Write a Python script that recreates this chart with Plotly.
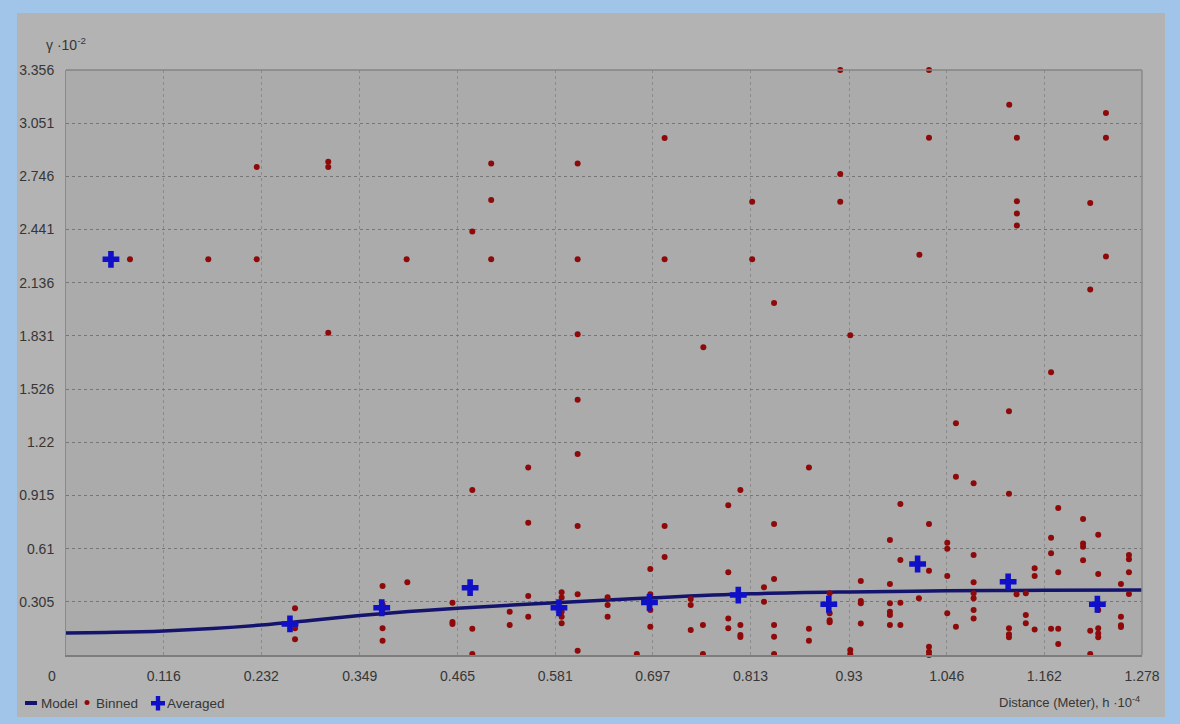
import plotly.graph_objects as go

# ---------------- data ----------------
x_ticks = [0, 0.116, 0.232, 0.349, 0.465, 0.581, 0.697, 0.813, 0.93, 1.046, 1.162, 1.278]
y_ticks = [0.305, 0.61, 0.915, 1.22, 1.526, 1.831, 2.136, 2.441, 2.746, 3.051, 3.356]

model_x = [0, 0.058, 0.116, 0.174, 0.232, 0.29, 0.349, 0.407, 0.465, 0.581, 0.697, 0.813, 0.93, 1.046, 1.162, 1.278]
model_y = [0.126, 0.130, 0.138, 0.152, 0.172, 0.198, 0.226, 0.249, 0.268, 0.300, 0.328, 0.351, 0.362, 0.368, 0.371, 0.373]

binned_x = [
    0.076, 0.169, 0.2265, 0.2265, 0.272, 0.272, 0.272, 0.272, 0.3115, 0.3115, 0.3115,
    0.376, 0.376, 0.376, 0.376, 0.376, 0.4046, 0.4054, 0.459, 0.459, 0.459,
    0.4826, 0.4826, 0.4826, 0.4826, 0.505, 0.505, 0.505, 0.527, 0.527,
    0.549, 0.549, 0.549, 0.549, 0.5887, 0.5887, 0.5887, 0.5887, 0.5887,
    0.6077, 0.6077, 0.6077, 0.6077, 0.6077, 0.6077, 0.6077, 0.6077,
    0.6433, 0.6433, 0.6433, 0.678, 0.694, 0.694, 0.694, 0.694,
    0.711, 0.711, 0.711, 0.711, 0.742, 0.742, 0.742, 0.757, 0.7565, 0.7565,
    0.7866, 0.7866, 0.7866, 0.7866, 0.801, 0.801, 0.801, 0.801, 0.815, 0.815,
    0.829, 0.829, 0.841, 0.841, 0.841, 0.841, 0.841, 0.841,
    0.8824, 0.8824, 0.8824, 0.907, 0.907, 0.907, 0.907,
    0.9196, 0.9196, 0.9196, 0.9315, 0.9315, 0.9315, 0.944, 0.944, 0.944, 0.944,
    0.9786, 0.9786, 0.9786, 0.9786, 0.9786, 0.9786, 0.991, 0.991, 0.991, 0.991,
    1.0136, 1.013, 1.025, 1.025, 1.025, 1.025, 1.025, 1.025, 1.025,
    1.0467, 1.0467, 1.0467, 1.0467, 1.057, 1.057, 1.057,
    1.078, 1.078, 1.078, 1.078, 1.078, 1.078, 1.078,
    1.1203, 1.12, 1.12, 1.12, 1.12, 1.12, 1.1294, 1.1294, 1.1294, 1.1294, 1.129,
    1.14, 1.14, 1.14, 1.1505, 1.1505, 1.1505, 1.17, 1.17, 1.17, 1.17,
    1.1785, 1.1785, 1.1785, 1.1785, 1.208, 1.208, 1.208, 1.208,
    1.2165, 1.2165, 1.2165, 1.2165, 1.226, 1.226, 1.226, 1.226, 1.226, 1.226,
    1.2352, 1.2352, 1.2352, 1.253, 1.253, 1.253, 1.253, 1.2625, 1.2625, 1.2625, 1.2625,
]
binned_y = [
    2.27, 2.27, 2.27, 2.80, 0.268, 0.176, 0.153, 0.09, 2.83, 2.80, 1.849,
    0.396, 0.29, 0.26, 0.153, 0.082, 2.27, 0.417, 0.30, 0.19, 0.178,
    2.43, 0.947, 0.151, 0.006, 2.82, 2.61, 2.27, 0.248, 0.172,
    1.075, 0.759, 0.338, 0.22, 0.36, 0.33, 0.248, 0.22, 0.182,
    2.82, 2.27, 1.84, 1.465, 1.153, 0.74, 0.348, 0.025,
    0.331, 0.287, 0.22, 0.006, 0.493, 0.348, 0.258, 0.162,
    2.966, 2.27, 0.74, 0.562, 0.321, 0.287, 0.143, 1.765, 0.172, 0.006,
    0.859, 0.474, 0.21, 0.153, 0.947, 0.172, 0.115, 0.103, 2.60, 2.27,
    0.388, 0.306, 2.02, 0.752, 0.436, 0.172, 0.105, 0.006,
    1.075, 0.151, 0.082, 0.354, 0.239, 0.2, 0.188,
    3.356, 2.76, 2.60, 1.835, 0.029, 0.006, 0.425, 0.31, 0.297, 0.18,
    0.66, 0.407, 0.297, 0.248, 0.229, 0.172, 0.866, 0.545, 0.30, 0.172,
    2.296, 0.325, 3.356, 2.968, 0.752, 0.484, 0.048, 0.019, 0.0,
    0.644, 0.61, 0.453, 0.239, 1.329, 1.023, 0.162,
    0.985, 0.574, 0.417, 0.354, 0.325, 0.258, 0.21,
    3.157, 1.398, 0.925, 0.153, 0.119, 0.102, 2.968, 2.603, 2.533, 2.464, 0.348,
    0.354, 0.229, 0.182, 0.497, 0.453, 0.147, 1.622, 0.673, 0.583, 0.151,
    0.843, 0.474, 0.151, 0.063, 0.78, 0.64, 0.621, 0.543,
    2.593, 2.097, 0.139, 0.006, 0.69, 0.465, 0.258, 0.153, 0.124, 0.102,
    3.109, 2.968, 2.286, 0.407, 0.22, 0.17, 0.16, 0.574, 0.549, 0.474, 0.35,
]

avg_x = [0.0534, 0.266, 0.375, 0.480, 0.5855, 0.693, 0.7985, 0.906, 1.0115, 1.119, 1.225]
avg_y = [2.27, 0.178, 0.271, 0.386, 0.271, 0.302, 0.344, 0.291, 0.522, 0.42, 0.291]

legend_labels = ["Model", "Binned", "Averaged"]

# ---------------- styling ----------------
FONT = "Liberation Sans, Arial, sans-serif"
TXT = "#363636"
PANEL = "#b3b3b3"
BORDER = "#a0c5e8"
MODEL_C = "#14146e"
BIN_C = "#8e0a0a"
AVG_C = "#1010c8"

fig = go.Figure()

fig.add_trace(go.Scatter(
    x=model_x, y=model_y, mode="lines", name=legend_labels[0],
    line=dict(color=MODEL_C, width=3.5, shape="spline"), showlegend=False,
))
fig.add_trace(go.Scatter(
    x=binned_x, y=binned_y, mode="markers", name=legend_labels[1],
    marker=dict(color=BIN_C, size=6, line=dict(width=0)),
    cliponaxis=False, showlegend=False,
))
fig.add_trace(go.Scatter(
    x=avg_x, y=avg_y, mode="markers", name=legend_labels[2],
    marker=dict(color=AVG_C, symbol="cross", size=14, line=dict(width=0)),
    cliponaxis=False, showlegend=False,
))

# pixel helpers (figure coordinates)
L, R, T, B = 66, 1142, 70, 655
W, H = R - L, B - T
def pxx(p):
    return (p - L) / W
def pxy(p):
    return (B - p) / H

# grey panel and plot area
fig.add_shape(type="rect", xref="paper", yref="paper", layer="below",
              x0=pxx(17), x1=pxx(1165), y0=pxy(717), y1=pxy(13),
              fillcolor=PANEL, line=dict(width=0))
fig.add_shape(type="rect", xref="paper", yref="paper", layer="below",
              x0=0, x1=1, y0=0, y1=1, fillcolor="#ababab", line=dict(width=0))

fig.update_xaxes(
    range=[0, 1.278], tickvals=x_ticks[1:],
    ticktext=[f"{v:g}" for v in x_ticks[1:]],
    showgrid=True, gridcolor="#8a8a8a", griddash="dot", gridwidth=1,
    showline=True, linecolor="#7d7d7d", linewidth=2, mirror=False,
    ticks="", ticklabelstandoff=7, zeroline=False,
    tickfont=dict(family=FONT, size=14, color=TXT),
)
fig.update_yaxes(
    range=[0, 3.356], tickvals=y_ticks,
    ticktext=[f"{v:g}" for v in y_ticks],
    showgrid=True, gridcolor="#767676", griddash="dot", gridwidth=1,
    showline=True, linecolor="#8a8a8a", linewidth=1, mirror=False,
    ticks="", ticklabelstandoff=8, zeroline=False,
    tickfont=dict(family=FONT, size=14, color=TXT),
)
# frame top/right
fig.add_shape(type="line", xref="paper", yref="paper", x0=0, x1=1, y0=1, y1=1,
              line=dict(color="#858585", width=1.5))
fig.add_shape(type="line", xref="paper", yref="paper", x0=1, x1=1, y0=0, y1=1,
              line=dict(color="#8a8a8a", width=1.5))

fig.add_annotation(x=pxx(52), y=pxy(676), xref="paper", yref="paper", text=f"{x_ticks[0]:g}",
                   showarrow=False, xanchor="center", yanchor="middle",
                   font=dict(family=FONT, size=14, color=TXT))
fig.add_annotation(x=pxx(44), y=pxy(44), xref="paper", yref="paper",
                   text="γ ·10<sup>-2</sup>", showarrow=False, xanchor="left", yanchor="middle",
                   font=dict(family=FONT, size=14, color=TXT))
fig.add_annotation(x=1, y=pxy(702), xref="paper", yref="paper",
                   text="Distance (Meter), h ·10<sup>-4</sup>", showarrow=False,
                   xanchor="right", yanchor="middle",
                   font=dict(family=FONT, size=13, color=TXT))

# ---- legend (bottom-left) ----
LY = 703
LF = dict(family=FONT, size=13.5, color=TXT)
fig.add_shape(type="line", xref="paper", yref="paper", x0=pxx(25), x1=pxx(37), y0=pxy(LY), y1=pxy(LY),
              line=dict(color=MODEL_C, width=4))
fig.add_annotation(x=pxx(39), y=pxy(LY), xref="paper", yref="paper", text=legend_labels[0],
                   showarrow=False, xanchor="left", yanchor="middle", font=LF)
fig.add_shape(type="circle", xref="paper", yref="paper", x0=pxx(84.5), x1=pxx(89.5), y0=pxy(700), y1=pxy(705),
              fillcolor=BIN_C, line=dict(width=0))
fig.add_annotation(x=pxx(94), y=pxy(LY), xref="paper", yref="paper", text=legend_labels[1],
                   showarrow=False, xanchor="left", yanchor="middle", font=LF)
fig.add_shape(type="rect", xref="paper", yref="paper", x0=pxx(151), x1=pxx(165), y0=pxy(701), y1=pxy(705.5),
              fillcolor=AVG_C, line=dict(width=0))
fig.add_shape(type="rect", xref="paper", yref="paper", x0=pxx(155.8), x1=pxx(160.2), y0=pxy(696), y1=pxy(710.5),
              fillcolor=AVG_C, line=dict(width=0))
fig.add_annotation(x=pxx(165), y=pxy(LY), xref="paper", yref="paper", text=legend_labels[2],
                   showarrow=False, xanchor="left", yanchor="middle", font=LF)

fig.update_layout(
    width=1180, height=724,
    margin=dict(l=L, r=1180 - R, t=T, b=724 - B),
    paper_bgcolor=BORDER, plot_bgcolor="rgba(0,0,0,0)",
    showlegend=False,
    font=dict(family=FONT, color=TXT),
)

fig.write_html("out.html", config={"displayModeBar": False},
               post_script="document.body.style.margin='0px';")
